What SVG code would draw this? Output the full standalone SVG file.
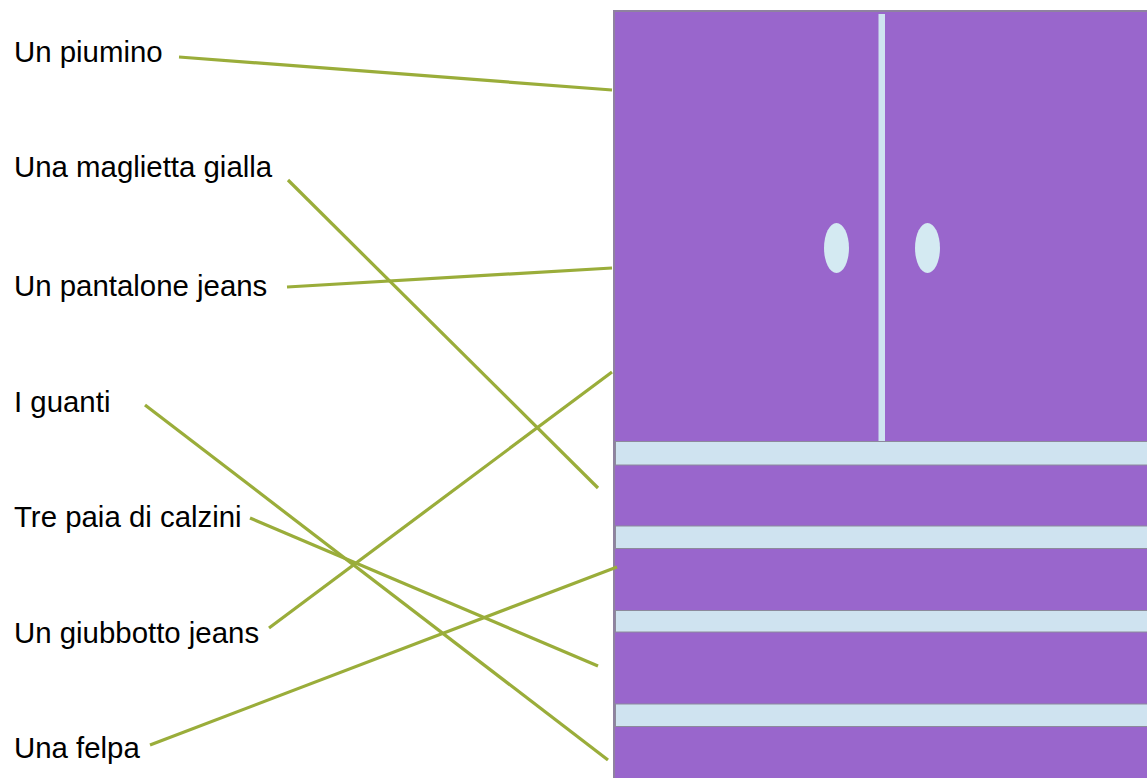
<svg xmlns="http://www.w3.org/2000/svg" width="1147" height="778" viewBox="0 0 1147 778">
<style>
.lbl{font-family:"Liberation Sans",Arial,sans-serif;font-size:29.4px;fill:#000}
.con{stroke:#9aad3a;stroke-width:3.2;fill:none;stroke-linecap:butt}
.shelf{fill:#cfe3f0;stroke:#8c8a9c;stroke-width:1}
.handle{fill:#d4eaf2}
</style>
<rect width="1147" height="778" fill="#fff"/>
<g id="wardrobe">
<rect x="614" y="11" width="540" height="775" fill="#9966cc" stroke="#8f82a0" stroke-width="2"/>
<rect x="878.5" y="14" width="6.5" height="427" fill="#cfe3f0"/>
<ellipse class="handle" cx="836.5" cy="248" rx="12.5" ry="25"/>
<ellipse class="handle" cx="927.5" cy="248" rx="12.5" ry="25"/>
<rect class="shelf" x="615.5" y="441.5" width="540" height="23.5"/>
<rect class="shelf" x="615.5" y="526" width="540" height="22.5"/>
<rect class="shelf" x="615.5" y="610.5" width="540" height="21.5"/>
<rect class="shelf" x="615.5" y="704" width="540" height="22.5"/>
</g>
<g id="labels">
<text id="n1" class="lbl" x="14" y="62">Un piumino</text>
<text id="n2" class="lbl" x="14" y="177">Una maglietta gialla</text>
<text id="n3" class="lbl" x="14" y="296">Un pantalone jeans</text>
<text id="n4" class="lbl" x="14" y="412">I guanti</text>
<text id="n5" class="lbl" x="14" y="527">Tre paia di calzini</text>
<text id="n6" class="lbl" x="14" y="643">Un giubbotto jeans</text>
<text id="n7" class="lbl" x="14" y="758">Una felpa</text>
</g>
<g id="connectors">
<line class="con" x1="179" y1="57" x2="612" y2="90"/>
<line class="con" x1="288" y1="180" x2="598" y2="488"/>
<line class="con" x1="287" y1="287" x2="612" y2="268"/>
<line class="con" x1="145" y1="405" x2="608" y2="760"/>
<line class="con" x1="250" y1="518" x2="598" y2="666"/>
<line class="con" x1="269" y1="628" x2="612" y2="372"/>
<line class="con" x1="150" y1="745" x2="617" y2="567"/>
</g>
</svg>
